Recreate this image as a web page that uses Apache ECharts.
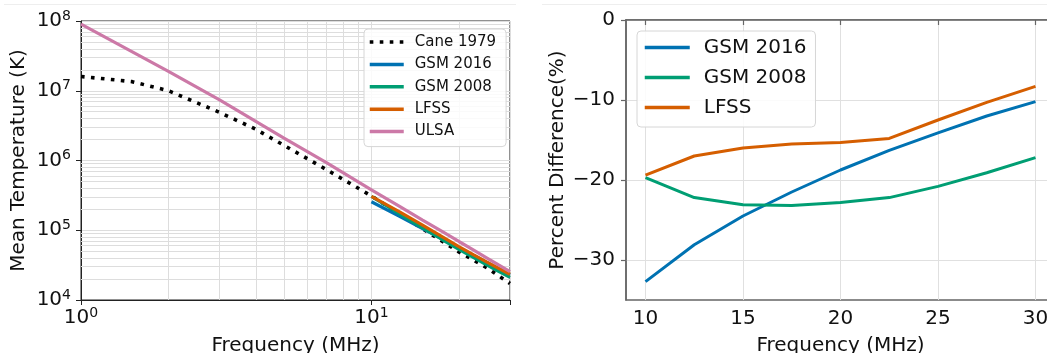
<!DOCTYPE html>
<html><head><meta charset="utf-8">
<script src="https://cdn.jsdelivr.net/npm/echarts@6/dist/echarts.min.js"></script>
<style>html,body{margin:0;padding:0;background:#fff}#c{width:1047px;height:353px}</style>
</head><body><div id="c"></div>
<script>
// ---- data ----
const ulsaFreq = [1, 2, 3, 5, 7, 10, 12.5, 15, 17.5, 20, 22.5, 25, 27.5, 30];
const ulsaT = [9.0e7, 1.9e7, 7.4e6, 2.1e6, 9.3e5, 3.8e5, 2.2e5, 1.4e5, 9.6e4, 6.9e4, 5.2e4, 4.0e4, 3.15e4, 2.55e4];
const caneFreq = [1, 1.25, 1.5, 2, 3, 4, 5, 7, 10, 15, 20, 25, 30];
const caneT = [1.6e7, 1.46e7, 1.35e7, 1.0e7, 4.9e6, 2.8e6, 1.65e6, 7.4e5, 3.1e5, 1.05e5, 4.9e4, 2.9e4, 1.72e4];
const modelFreq = [10, 12.5, 15, 17.5, 20, 22.5, 25, 27.5, 30];
const gsm2016T = [2.56e5, 1.58e5, 1.06e5, 7.5e4, 5.6e4, 4.35e4, 3.44e4, 2.77e4, 2.29e4];
const gsm2008T = [3.05e5, 1.71e5, 1.08e5, 7.37e4, 5.33e4, 4.05e4, 3.17e4, 2.55e4, 2.11e4];
const lfssT = [3.06e5, 1.83e5, 1.18e5, 8.1e4, 5.84e4, 4.43e4, 3.5e4, 2.83e4, 2.34e4];
const gsm2016P = [-32.7, -28.1, -24.5, -21.5, -18.75, -16.3, -14.1, -12.0, -10.2];
const gsm2008P = [-19.7, -22.2, -23.1, -23.2, -22.8, -22.2, -20.8, -19.1, -17.2];
const lfssP = [-19.4, -17.0, -16.0, -15.5, -15.3, -14.8, -12.5, -10.3, -8.3];
const rightXTicks = [10, 15, 20, 25, 30];
const rightYTicks = [-30, -20, -10, 0];
const minorXGrid = [2, 3, 4, 5, 6, 7, 8, 9, 20, 30];
const decades = [1e4, 1e5, 1e6, 1e7];
const minorMult = [2, 3, 4, 5, 6, 7, 8, 9];

// ---- helpers ----
const zip = (xs, ys) => xs.map((x, i) => [x, ys[i]]);
const FONT = 'DejaVu Sans';
const C = { cane: '#000000', g16: '#0072B2', g08: '#009E73', lfss: '#D55E00', ulsa: '#CC79A7' };
const minorYGrid = [];
decades.forEach(d => minorMult.forEach(m => minorYGrid.push(m * d)));
const gridMarks = [];
minorXGrid.forEach(v => gridMarks.push({ xAxis: v }));
minorYGrid.forEach(v => gridMarks.push({ yAxis: v }));

const powLabel = v => {
  const l = Math.log10(v), e = Math.round(l);
  if (Math.abs(l - e) > 1e-6) return '';
  return '{b|10}{s|' + e + '}';
};
const powRich = {
  b: { fontSize: 20, fontFamily: FONT, color: '#111' },
  s: { fontSize: 14, fontFamily: FONT, color: '#111', padding: [0, 0, 10, 0] }
};
const minus = v => String(v).replace('-', '\u2212');

const lineS = (name, data, color, xi, extra) => Object.assign({
  name, type: 'line', data, xAxisIndex: xi, yAxisIndex: xi,
  showSymbol: false, symbol: 'none', silent: true, animation: false,
  lineStyle: { color, width: 3.2 }, itemStyle: { color }, z: 3
}, extra || {});

const option = {
  animation: false,
  textStyle: { fontFamily: FONT },
  graphic: [
    { type: 'line', shape: { x1: 4, y1: 4.5, x2: 516, y2: 4.5 }, style: { stroke: '#eeeeee', lineWidth: 1 }, silent: true },
    { type: 'line', shape: { x1: 542, y1: 4.5, x2: 1047, y2: 4.5 }, style: { stroke: '#eeeeee', lineWidth: 1 }, silent: true }
  ],
  grid: [
    { left: 81, top: 21, width: 429, height: 279, show: true, borderColor: '#222', borderWidth: 1, backgroundColor: 'transparent', outerBoundsMode: 'none', containLabel: false },
    { left: 626, top: 20, width: 429, height: 280, show: true, borderColor: '#666', borderWidth: 1.5, backgroundColor: 'transparent', outerBoundsMode: 'none', containLabel: false }
  ],
  xAxis: [
    {
      gridIndex: 0, type: 'log', logBase: 10, min: 1, max: 30,
      name: 'Frequency (MHz)', nameLocation: 'middle', nameGap: 36,
      nameTextStyle: { fontSize: 20, color: '#111', fontFamily: FONT },
      axisLine: { show: true, lineStyle: { color: '#222', width: 1 } },
      axisTick: { show: true, inside: false, length: 5, lineStyle: { color: '#222' } },
      axisLabel: { formatter: powLabel, rich: powRich, margin: 6, showMinLabel: true, showMaxLabel: true },
      splitLine: { show: true, lineStyle: { color: '#dddddd', width: 1 } }
    },
    {
      gridIndex: 1, type: 'value', min: 9, max: 31,
      name: 'Frequency (MHz)', nameLocation: 'middle', nameGap: 36,
      nameTextStyle: { fontSize: 20, color: '#111', fontFamily: FONT },
      axisLine: { show: true, lineStyle: { color: '#666', width: 1.5 } },
      axisTick: { show: true, inside: false, length: 5, lineStyle: { color: '#666', width: 1.2 }, customValues: rightXTicks },
      axisLabel: { fontSize: 20, color: '#111', margin: 9, customValues: rightXTicks, formatter: v => minus(v) },
      splitLine: { show: true, lineStyle: { color: '#e0e0e0', width: 1 } }
    }
  ],
  yAxis: [
    {
      gridIndex: 0, type: 'log', logBase: 10, min: 1e4, max: 1e8,
      name: 'Mean Temperature (K)', nameLocation: 'middle', nameGap: 52,
      nameTextStyle: { fontSize: 20, color: '#111', fontFamily: FONT },
      axisLine: { show: true, lineStyle: { color: '#222', width: 1 } },
      axisTick: { show: true, inside: false, length: 5, lineStyle: { color: '#222' } },
      axisLabel: { formatter: powLabel, rich: powRich, margin: 10 },
      splitLine: { show: true, lineStyle: { color: '#dddddd', width: 1 } }
    },
    {
      gridIndex: 1, type: 'value', min: -35, max: 0,
      name: 'Percent Difference(%)', nameLocation: 'middle', nameGap: 58,
      nameTextStyle: { fontSize: 20, color: '#111', fontFamily: FONT },
      axisLine: { show: true, lineStyle: { color: '#666', width: 1.5 } },
      axisTick: { show: true, inside: false, length: 5, lineStyle: { color: '#666', width: 1.2 }, customValues: rightYTicks },
      axisLabel: { fontSize: 20, color: '#111', margin: 11, customValues: rightYTicks, formatter: v => minus(v) },
      splitLine: { show: true, lineStyle: { color: '#e0e0e0', width: 1 } }
    }
  ],
  legend: [
    {
      orient: 'vertical', left: 364, top: 29,
      data: ['Cane 1979', 'GSM 2016', 'GSM 2008', 'LFSS', 'ULSA'],
      itemWidth: 34, itemHeight: 14, itemGap: 4.4,
      padding: [4, 10, 6, 4],
      itemStyle: { opacity: 0 },
      lineStyle: { width: 3.5 },
      backgroundColor: 'rgba(255,255,255,0.85)', borderColor: '#d6d6d6', borderWidth: 1, borderRadius: 4,
      textStyle: { fontSize: 15, color: '#111', lineHeight: 18, padding: [0, 0, 0, 6], fontFamily: FONT },
      selectedMode: false
    },
    {
      orient: 'vertical', left: 637, top: 31,
      data: ['GSM 2016', 'GSM 2008', 'LFSS'],
      itemWidth: 45, itemHeight: 14, itemGap: 6,
      padding: [4.5, 9, 7.5, 6],
      itemStyle: { opacity: 0 },
      lineStyle: { width: 3.5 },
      backgroundColor: 'rgba(255,255,255,0.85)', borderColor: '#d6d6d6', borderWidth: 1, borderRadius: 4,
      textStyle: { fontSize: 20, color: '#111', lineHeight: 24, padding: [0, 0, 0, 9], fontFamily: FONT },
      selectedMode: false
    }
  ],
  series: [
    {
      name: 'minor-grid', type: 'line', data: [], xAxisIndex: 0, yAxisIndex: 0, silent: true, z: 1,
      markLine: {
        silent: true, symbol: ['none', 'none'], z: 1, animation: false,
        label: { show: false }, emphasis: { disabled: true },
        lineStyle: { color: '#dddddd', width: 1, type: 'solid' },
        data: gridMarks
      }
    },
    lineS('Cane 1979', zip(caneFreq, caneT), C.cane, 0, { lineStyle: { color: C.cane, width: 3.6, type: [3.6, 6.4], cap: 'butt' } }),
    lineS('GSM 2016', zip(modelFreq, gsm2016T), C.g16, 0),
    lineS('GSM 2008', zip(modelFreq, gsm2008T), C.g08, 0),
    lineS('LFSS', zip(modelFreq, lfssT), C.lfss, 0),
    lineS('ULSA', zip(ulsaFreq, ulsaT), C.ulsa, 0),
    lineS('GSM 2016', zip(modelFreq, gsm2016P), C.g16, 1, { lineStyle: { color: C.g16, width: 3 } }),
    lineS('GSM 2008', zip(modelFreq, gsm2008P), C.g08, 1, { lineStyle: { color: C.g08, width: 3 } }),
    lineS('LFSS', zip(modelFreq, lfssP), C.lfss, 1, { lineStyle: { color: C.lfss, width: 3 } })
  ]
};
const chart = echarts.init(document.getElementById('c'), null, { renderer: 'canvas' });
chart.setOption(option);
</script></body></html>
